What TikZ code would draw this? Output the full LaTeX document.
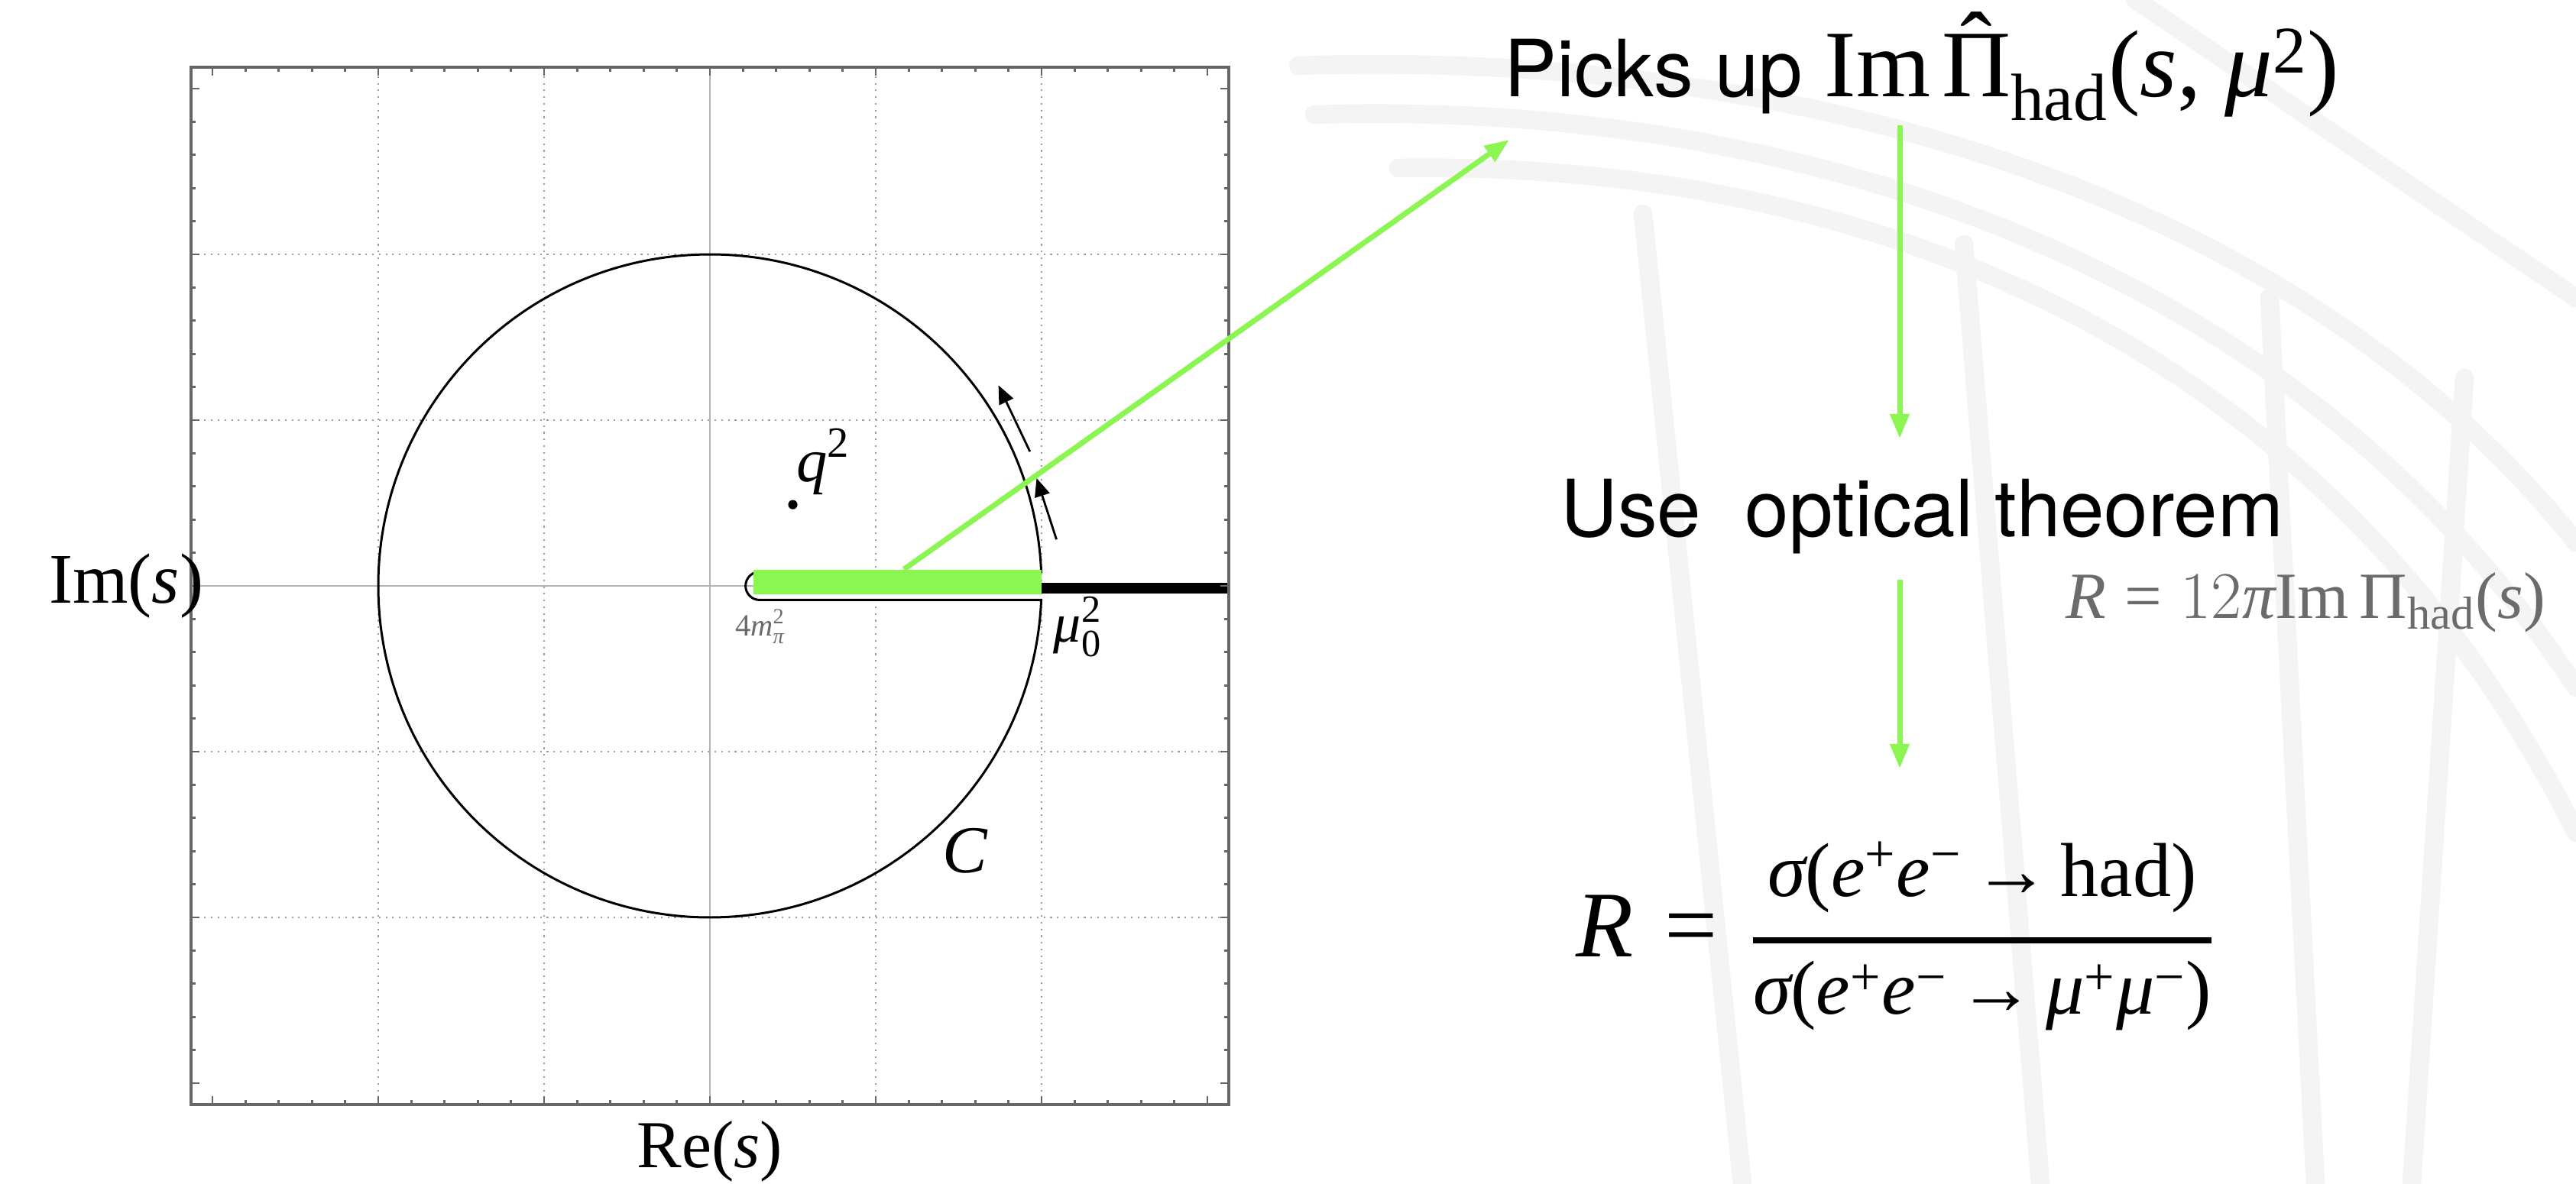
\documentclass[tikz,border=0pt]{standalone}
\usepackage{amsmath}
\usepackage{fontspec}
\setmainfont{Liberation Serif}
\newfontfamily\heros{TeX Gyre Heros}
\usetikzlibrary{arrows.meta, positioning, calc}
\definecolor{cutgreen}{HTML}{8BF551}
\definecolor{framegray}{HTML}{666666}
\definecolor{gridgray}{HTML}{9C9C9C}
\definecolor{axisgray}{HTML}{B4B4B4}
\definecolor{labelgray}{HTML}{6B6B6B}
\definecolor{swoosh}{HTML}{F4F4F4}
\newcommand\hatPi{\ooalign{Π\cr\hidewidth\raisebox{0.2em}{ˆ}\hidewidth\cr}}
\tikzset{
  plotframe/.style={draw=framegray, line width=1.15pt},
  gridline/.style={gridgray, line width=0.6pt, dash pattern=on 0.6pt off 1.9pt},
  axisline/.style={axisgray, line width=0.4pt},
  contour/.style={black, line width=0.85pt},
  cutbar/.style={cutgreen, line width=9pt},
  flow/.style={-{Triangle[length=3.2mm,width=2.4mm]}, cutgreen, line width=2pt},
  orient/.style={-{Triangle[length=2.4mm,width=2mm]}, black, line width=0.8pt},
  lbl/.style={inner sep=0pt, font=\fontsize{23}{26}\selectfont},
  slide/.style={inner sep=0pt, anchor=base west, font=\heros\fontsize{29.4}{34}\selectfont},
  swooshline/.style={swoosh, line width=7pt, line cap=round},
}

\begin{document}
\begin{tikzpicture}
\useasboundingbox (0,0) rectangle (33.71,15.5);
\fill[white] (0,0) rectangle (33.71,15.5);
% faint slide background
\draw[swooshline] (16.99,14.64) .. controls (23.65,14.86) and (30.1,12.92) .. (33.71,8.4);
\draw[swooshline] (17.2,14.0) .. controls (23.65,14.2) and (30.1,12.0) .. (33.71,6.5);
\draw[swooshline] (18.3,13.3) .. controls (24.5,13.4) and (30.5,11.0) .. (33.71,4.6);
\draw[swooshline] (21.5,12.7) -- (22.8,0);
\draw[swooshline] (25.7,12.3) -- (26.7,0);
\draw[swooshline] (29.7,11.6) -- (30.3,0);
\draw[swooshline] (32.25,10.55) -- (31.56,0);
\draw[swooshline] (27.95,15.5) -- (33.71,11.6);

% s-plane
\begin{scope}[shift={(9.29,7.83)}, x=2.17cm, y=2.17cm]
\fill[white] (-3.13,-3.13) rectangle (3.13,3.13);
\foreach \g in {-2,-1,1,2}{
  \draw[gridline] (\g,-3.13) -- (\g,3.13);
  \draw[gridline] (-3.13,\g) -- (3.13,\g);
}
\draw[axisline] (-3.13,0) -- (3.13,0);
\draw[axisline] (0,-3.13) -- (0,3.13);
% contour around the cut
\draw[contour] (1.998,0.085) arc[start angle=2.44, end angle=357.56, radius=2]
  -- (0.30,-0.085) arc[start angle=270, end angle=90, radius=0.085] -- cycle;
\draw[black, line width=4pt] (2,-0.014) -- (3.13,-0.014);
\draw[cutbar] (0.263,0.023) -- (2,0.023);
\coordinate (gstart) at (1.17,0.10);
\draw[orient] (2.09,0.28) -- (1.97,0.65);
\draw[orient] (1.93,0.81) -- (1.74,1.21);
% ticks
\foreach \i in {-15,...,15}{
  \draw[framegray, line width=0.8pt] ({\i/5},3.13) -- ++(0,-0.03) ({\i/5},-3.13) -- ++(0,0.03)
    (3.13,{\i/5}) -- ++(-0.03,0) (-3.13,{\i/5}) -- ++(0.03,0);
}
\foreach \i in {-3,...,3}{
  \draw[framegray, line width=0.8pt] (\i,3.13) -- ++(0,-0.05) (\i,-3.13) -- ++(0,0.05)
    (3.13,\i) -- ++(-0.05,0) (-3.13,\i) -- ++(0.05,0);
}
\draw[plotframe] (-3.13,-3.13) rectangle (3.13,3.13);
\fill (0.5,0.49) circle (0.028);
\node[lbl, anchor=base west] (qsq) at (0.52,0.63) {$\textit{q}^{\text{2}}$};
\node[lbl, font=\fontsize{25}{28}\selectfont] (cont) at (1.54,-1.60) {\textit{C}};
\node[lbl, anchor=base west, font=\fontsize{20.5}{24}\selectfont] (muzero) at (2.07,-0.34) {$\textit{μ}^{\text{2}}_{\text{0}}$};
\node[lbl, anchor=base west, text=labelgray, font=\fontsize{11.5}{13}\selectfont] (thresh) at (0.15,-0.30) {4$\textit{m}^{\text{2}}_{\textit{π}}$};
\node[lbl, font=\fontsize{26.5}{30}\selectfont] (imaxis) at (-3.52,0) {Im(\textit{s})};
\node[lbl, font=\fontsize{25}{30}\selectfont] (reaxis) at (0,-3.41) {Re(\textit{s})};
\end{scope}

% chain of statements
\node[slide] (pick) at (19.68,14.23) {Picks up {\rmfamily\fontsize{35.5}{40}\selectfont
  $\text{Im}\,\text{\hatPi}_{\text{had}}\text{(}\textit{s}\text{, }\textit{μ}^{\text{2}}\text{)}$}};
\node[slide] (optic) at (20.42,8.47) {Use\ \ optical theorem};
\node[slide, font=\fontsize{24.6}{28}\selectfont, text=labelgray] (rdef) at (27.03,7.40)
  {$\textit{R}\mathrel{\text{=}}12\textit{π}\text{Im}\,\text{Π}_{\text{had}}\text{(}\textit{s}\text{)}$};
\node[slide, font=\fontsize{28.5}{34}\selectfont] (ratio) at (20.62,2.97)
  {$\text{\fontsize{35}{40}\selectfont\textit{R}\hspace{11.5pt}=\hspace{12pt}}\genfrac{}{}{2.2pt}{0}
   {\text{\rule[-0.31em]{0pt}{0.1em}}\textit{σ}\text{(}\textit{e}^{\text{+}}\textit{e}^{\text{−}}\,\text{→}\,\text{had)}}
   {\textit{σ}\text{(}\textit{e}^{\text{+}}\textit{e}^{\text{−}}\,\text{→}\,\textit{μ}^{\text{+}}\textit{μ}^{\text{−}}\text{)}}$};

\coordinate (colx) at (24.86,0);
\coordinate (gtip) at ($(pick.base west)+(0.07,-0.56)$);
\draw[flow] (gstart) -- (gtip);
\draw[flow, shorten <=0.5mm, shorten >=5.3mm] (pick.south -| colx) -- (optic.north -| colx);
\draw[flow, shorten <=3.3mm, shorten >=9.5mm] (optic.south -| colx) -- (ratio.north -| colx);
\end{tikzpicture}
\end{document}
